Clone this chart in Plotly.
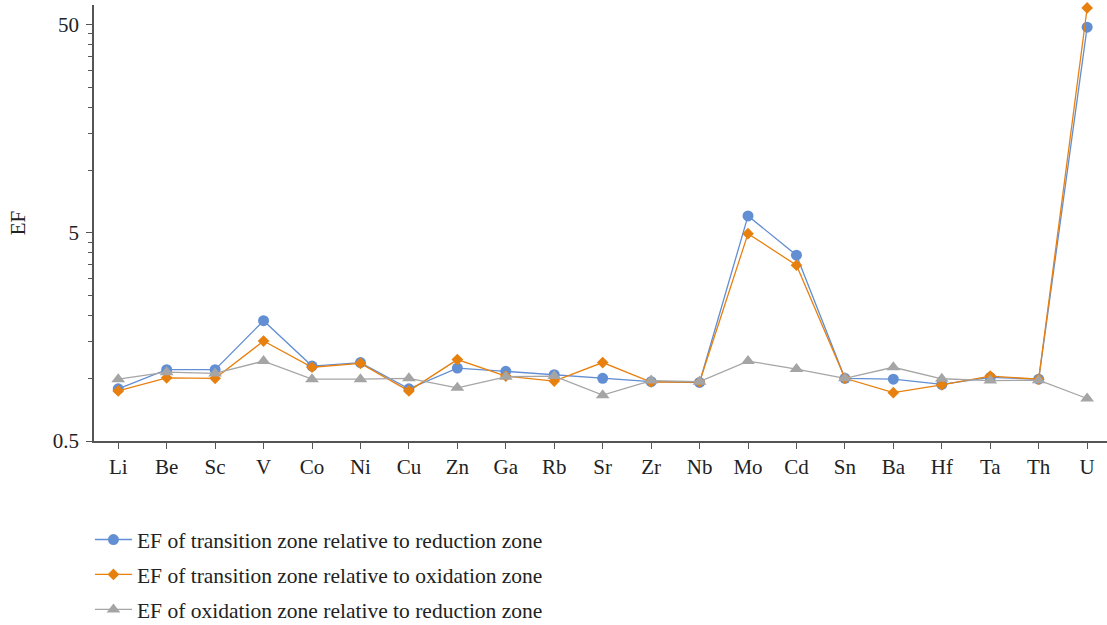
import plotly.graph_objects as go
import math

elements = ["Li", "Be", "Sc", "V", "Co", "Ni", "Cu", "Zn", "Ga", "Rb", "Sr",
            "Zr", "Nb", "Mo", "Cd", "Sn", "Ba", "Hf", "Ta", "Th", "U"]

ef_trans_red = [0.89, 1.10, 1.10, 1.89, 1.145, 1.19, 0.89, 1.12, 1.08, 1.04, 1.00,
                0.963, 0.955, 6.02, 3.90, 1.00, 0.99, 0.935, 1.01, 0.99, 48.5]
ef_trans_ox = [0.87, 1.005, 1.00, 1.51, 1.13, 1.18, 0.87, 1.23, 1.025, 0.97, 1.19,
               0.96, 0.96, 4.95, 3.49, 1.00, 0.853, 0.93, 1.025, 0.99, 60.0]
ef_ox_red = [0.99, 1.07, 1.056, 1.21, 0.99, 0.99, 1.00, 0.90, 1.017, 1.025, 0.83,
             0.975, 0.963, 1.21, 1.107, 1.00, 1.13, 0.995, 0.975, 0.98, 0.80]

names = ["EF of transition zone relative to reduction zone",
         "EF of transition zone relative to oxidation zone",
         "EF of oxidation zone relative to reduction zone"]
colors = ["#628ED3", "#E8800F", "#A5A5A5"]
symbols = ["circle", "diamond", "triangle-up"]
sizes = [11, 9, 12]

y_ticks = [0.5, 5, 50]
minor_ticks = [1, 1.5, 2, 2.5, 3, 3.5, 4, 4.5, 10, 15, 20, 25, 30, 35, 40, 45]

FONT = "Liberation Serif"
FS = 21
AX = "#555555"

y_range = [math.log10(0.5), math.log10(62)]

fig = go.Figure()
for i, (vals, name, c, s, sz) in enumerate(zip([ef_trans_red, ef_trans_ox, ef_ox_red], names, colors, symbols, sizes)):
    fig.add_trace(go.Scatter(
        x=list(range(len(elements))), y=vals, name=name, mode="lines+markers",
        legendgroup=f"g{i}",
        line=dict(color=c, width=1.3),
        marker=dict(color=c, symbol=s, size=sz),
        cliponaxis=False,
    ))

fig.update_layout(
    width=1107, height=625,
    margin=dict(l=94, r=0, t=5, b=184, autoexpand=False),
    plot_bgcolor="white", paper_bgcolor="white",
    font=dict(family=FONT, size=FS, color="#222222"),
    showlegend=True,
    legend=dict(x=-0.004, y=-0.179, xanchor="left", yanchor="top",
                font=dict(family=FONT, size=21.5, color="#222222"),
                tracegroupgap=4, itemwidth=37, bgcolor="rgba(0,0,0,0)"),
    xaxis=dict(
        tickmode="array", tickvals=list(range(len(elements))), ticktext=elements,
        range=[-0.5, 20.41], showline=True, linecolor=AX, linewidth=1.5,
        ticks="outside", tickson="boundaries", ticklen=6, tickcolor=AX,
        showgrid=False, zeroline=False, tickfont=dict(size=FS),
        ticklabelstandoff=0,
    ),
    yaxis=dict(
        type="log", range=y_range,
        tickmode="array", tickvals=y_ticks, ticktext=[str(v) for v in y_ticks],
        showline=True, linecolor=AX, linewidth=1.5,
        ticks="outside", ticklen=6, tickcolor=AX,
        showgrid=False, zeroline=False, tickfont=dict(size=FS),
        ticklabelstandoff=3,
        title=dict(text="EF", font=dict(size=FS), standoff=21),
    ),
    yaxis2=dict(
        type="log", range=y_range, overlaying="y", side="left", anchor="x",
        tickmode="array", tickvals=minor_ticks, ticktext=[""] * len(minor_ticks),
        ticks="outside", ticklen=5, tickcolor=AX, showline=False,
        showgrid=False, zeroline=False, showticklabels=False,
    ),
)
# invisible helper trace so the minor-tick axis is drawn
fig.add_trace(go.Scatter(x=[None], y=[None], yaxis="y2", showlegend=False, hoverinfo="skip"))

fig.write_html("out.html", config={"displayModeBar": False},
               post_script="document.body.style.margin='0px';")
